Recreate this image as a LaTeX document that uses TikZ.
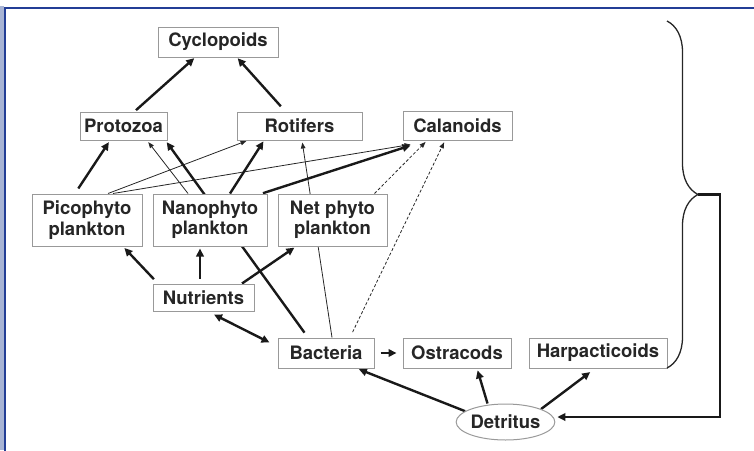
\documentclass[tikz,border=0pt]{standalone}
\usepackage{fontspec}
\setmainfont{TeX Gyre Heros}
\usetikzlibrary{positioning,arrows.meta,backgrounds,shapes.geometric,decorations.pathreplacing}
\definecolor{frameblue}{RGB}{35,62,150}
\definecolor{framelight}{RGB}{168,180,212}

\begin{document}
\begin{tikzpicture}[x=1pt,y=-1pt,
    box/.style={draw=black!40,line width=1pt,fill=white,inner sep=0pt,text=black!85,
      font=\bfseries\fontsize{18.5}{20.5}\selectfont,align=center},
    thk/.style={line width=2.4pt,black!90,-{Triangle[length=8pt,width=7.5pt]}},
    thn/.style={line width=0.8pt,black!85,-{Triangle[length=6pt,width=4.5pt]}},
    dsh/.style={thn,dash pattern=on 3pt off 2pt}]
  \useasboundingbox (0,0) rectangle (754,450);
  % frame
  \fill[framelight] (0,6) rectangle (3.6,450);
  \draw[line width=2.5pt,frameblue] (5,452) -- (5,8) -- (756,8);
  % boxes
  \node[box,minimum width=120pt,minimum height=30pt] (cyc) at (218,42) {Cyclopoids};
  \node[box,minimum width=87pt,minimum height=28pt] (proto) at (123.5,126) {Protozoa};
  \node[box,minimum width=125pt,minimum height=28pt] (rot) at (299.5,126) {Rotifers};
  \node[box,minimum width=109pt,minimum height=29pt] (cal) at (457.5,125.5) {Calanoids};
  \node[box,minimum width=110pt,minimum height=52pt] (pico) at (87,220) {Picophyto\\plankton};
  \node[box,minimum width=114pt,minimum height=52pt] (nano) at (210,220) {Nanophyto\\plankton};
  \node[box,minimum width=109pt,minimum height=52pt] (net) at (332.5,220) {Net phyto\\plankton};
  \node[box,minimum width=101pt,minimum height=27pt] (nut) at (203.5,297.5) {Nutrients};
  \node[box,minimum width=96pt,minimum height=30pt] (bac) at (326,353) {Bacteria};
  \node[box,minimum width=108pt,minimum height=30pt] (ost) at (457,353) {Ostracods};
  \node[box,minimum width=138pt,minimum height=30pt] (harp) at (598,353) {Harpacticoids};
  \node[box,ellipse,minimum width=97pt,minimum height=36pt] (det) at (505.5,422) {Detritus};
  \coordinate (brtip) at (698,194.5);
  % links
  \begin{scope}[on background layer]
    \draw[thk,shorten <=2pt,shorten >=1pt] ([xshift=11pt]proto.north) -- ([xshift=-23pt]cyc.south);
    \draw[thk,shorten <=7pt,shorten >=1pt] ([xshift=-14pt]rot.north) -- ([xshift=19pt]cyc.south);
    \draw[thk,shorten <=6pt,shorten >=2pt] ([xshift=-12pt]pico.north) -- ([xshift=-13.5pt]proto.south);
    \draw[thn,shorten >=2pt] ([xshift=-22pt]nano.north) -- ([xshift=23.5pt]proto.south);
    \draw[thk,shorten <=6pt,shorten >=2pt] ([xshift=-18pt]bac.north) -- ([xshift=42pt]proto.south);
    \draw[thn,shorten >=1pt] ([xshift=21pt]pico.north) -- ([xshift=-52pt]rot.south);
    \draw[thn] ([xshift=26pt]pico.north) -- ([xshift=-47pt,yshift=-4pt]cal.south);
    \draw[thk,shorten >=1pt] ([xshift=20pt]nano.north) -- ([xshift=-35.5pt]rot.south);
    \draw[thk,shorten <=1pt] ([xshift=52pt]nano.north) -- ([xshift=-47pt,yshift=-5pt]cal.south);
    \draw[dsh,shorten >=2pt] ([xshift=42pt]net.north) -- ([xshift=-30.5pt]cal.south);
    \draw[dsh,shorten <=6pt,shorten >=2pt] ([xshift=24pt]bac.north) -- ([xshift=-12.5pt]cal.south);
    \draw[thn,shorten >=2pt] ([xshift=6pt]bac.north) -- ([xshift=2.5pt]rot.south);
    \draw[thk,shorten <=6pt,shorten >=2pt] ([xshift=-45.5pt]nut.north) -- ([xshift=36pt]pico.south);
    \draw[thk,shorten <=5pt,shorten >=2pt] ([xshift=-3.5pt]nut.north) -- ([xshift=-10pt]nano.south);
    \draw[thk,shorten >=2pt] ([xshift=38.5pt]nut.north) -- ([xshift=-36.5pt]net.south);
    \draw[thk,{Triangle[length=8pt,width=7.5pt]}-{Triangle[length=8pt,width=7.5pt]}]
      ([xshift=10.5pt,yshift=-3pt]nut.south) -- ([xshift=-8pt,yshift=-5pt]bac.north west);
    \draw[thk,shorten <=6pt,shorten >=6pt] (bac.east) -- (ost.west);
    \draw[thk,shorten >=2pt] (det.165) -- ([xshift=31pt]bac.south);
    \draw[thk,shorten >=2pt] ([xshift=-18pt]det.north) -- ([xshift=20pt]ost.south);
    \draw[thk,shorten >=6pt] (det.20) -- ([xshift=-3pt]harp.south);
  \end{scope}
  % brace and feedback
  \draw[line width=1.3pt,black!85,decorate,decoration={brace,amplitude=31pt}] (667,21) -- (667,368);
  \draw[thk,shorten >=2pt] (brtip) -- ++(22,0) |- ([yshift=5pt]det.east);
\end{tikzpicture}
\end{document}
